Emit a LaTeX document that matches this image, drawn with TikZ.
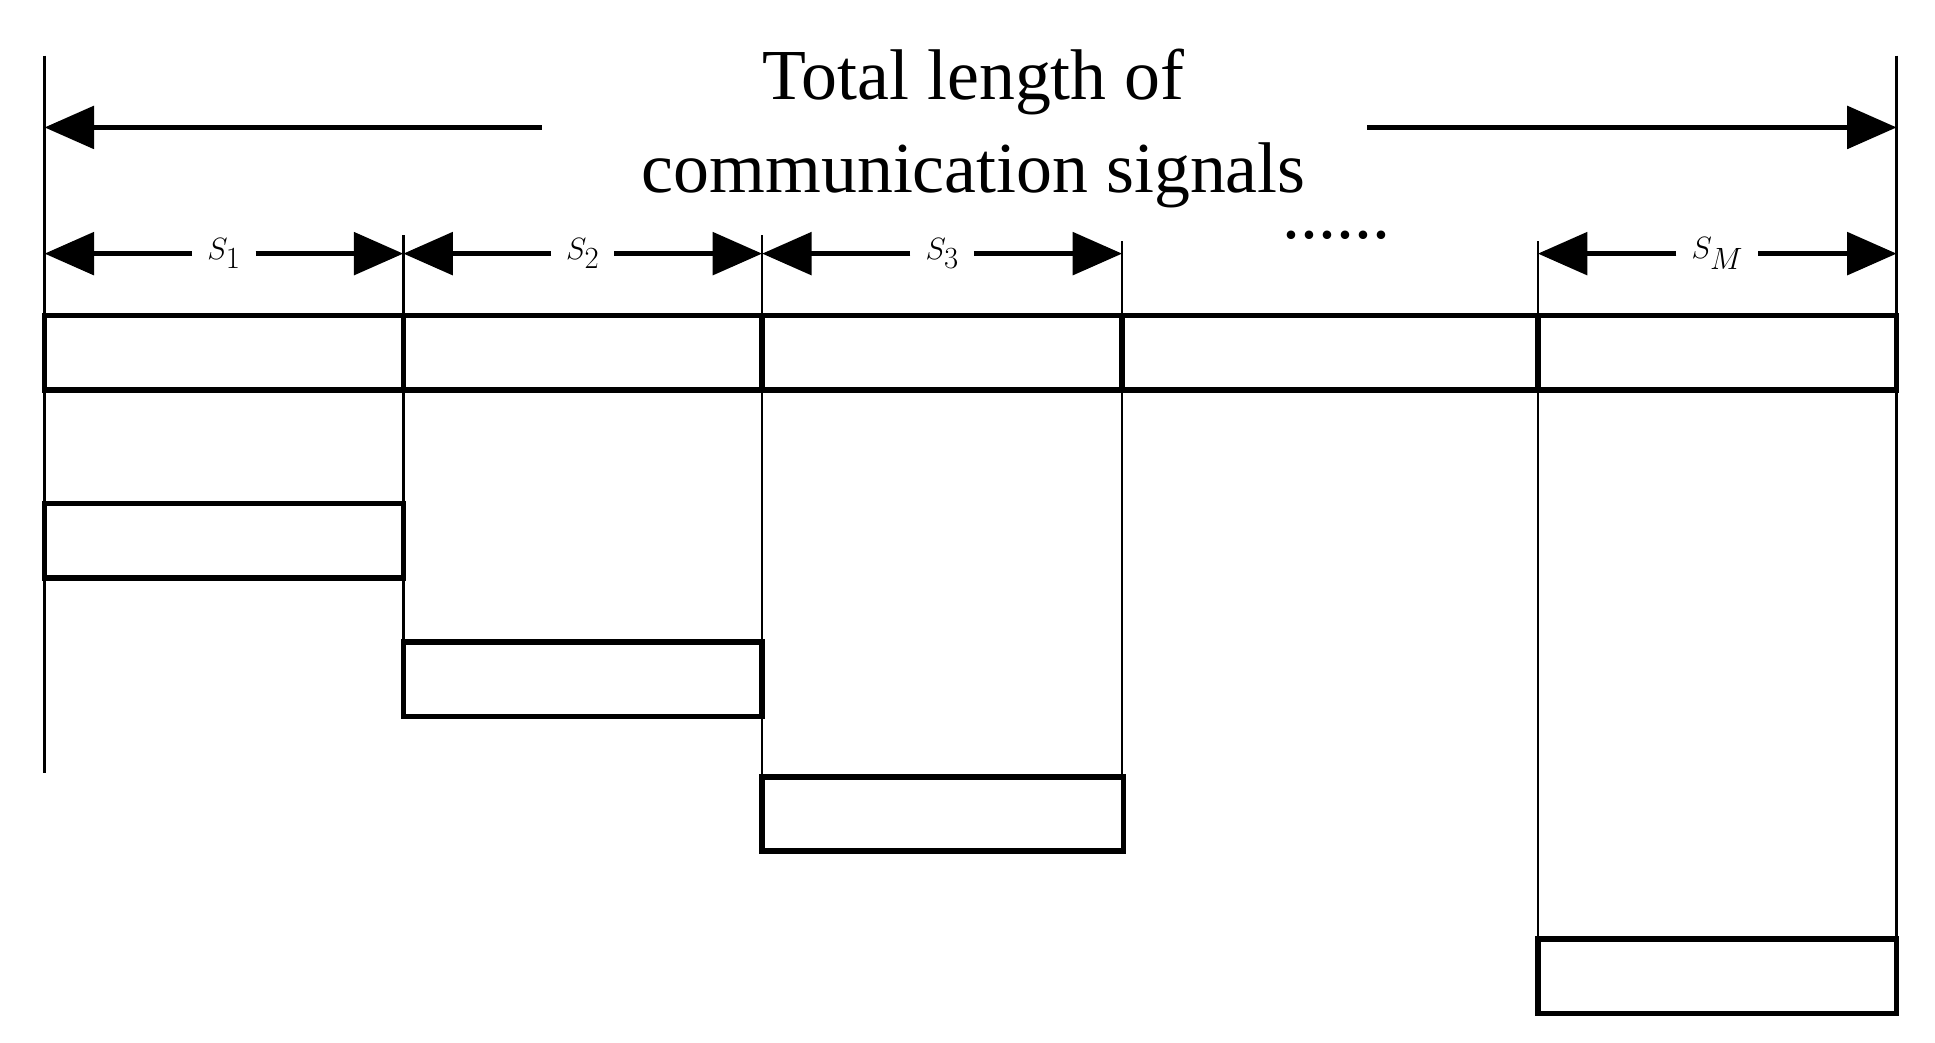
\documentclass[tikz,border=0pt]{standalone}
\usepackage{fontspec}
\setmainfont{Liberation Serif}
\usetikzlibrary{arrows.meta}
\begin{document}
\begin{tikzpicture}[x=1pt,y=-1pt,
  thick line/.style={line width=4.5pt},
  thin line/.style={line width=2pt},
  arr/.style={line width=4.5pt,-{Triangle[length=40pt,width=34pt]}},
  lab/.style={font=\fontsize{58}{62}\selectfont, inner sep=4pt},
  box/.style={draw,line width=4.5pt}]
\useasboundingbox (0,0) rectangle (1564,843);
% verticals
\draw[thin line] (36,45) -- (36,625);
\draw[thin line] (1533,45) -- (1533,820);
\draw[thin line] (326,190) -- (326,579);
\draw[thin line] (616,190) -- (616,688);
\draw[thin line] (907,195) -- (907,688);
\draw[thin line] (1243,195) -- (1243,819);
% total
\node[lab] (t1) at (787,66) {Total length of};
\node[lab] (t2) at (787,142) {communication signals};
\coordinate (L) at (36,103); \coordinate (R) at (1533,103);
\coordinate (la) at (438,103); \coordinate (ra) at (1105,103);
\draw[arr] (la) -- (L);
\draw[arr] (ra) -- (R);
% segment labels
\foreach \a/\b/\n/\t in {36/326/1/{$S_1$},326/616/2/{$S_2$},616/907/3/{$S_3$},1243/1533/4/{$S_M$}}{
  \node[lab] (s\n) at ({(\a+\b)/2},205) {\t};
  \coordinate (sa\n) at (\a,205); \coordinate (sb\n) at (\b,205);
  \draw[arr] (s\n.west) ++(-8,0) -- (sa\n);
  \draw[arr] (s\n.east) ++(8,0) -- (sb\n);
}
\node[lab] (dots) at (1080,190) {......};
% bar
\draw[box] (36,255) rectangle (1533,315);
\foreach \x in {326,616,907,1243} \draw[line width=4.5pt] (\x,255) -- (\x,315);
% boxes
\draw[box] (36,407) rectangle (326,467);
\draw[box] (326,519) rectangle (616,579);
\draw[box] (616,628) rectangle (908,688);
\draw[box] (1243,759) rectangle (1533,819);
\end{tikzpicture}
\end{document}
